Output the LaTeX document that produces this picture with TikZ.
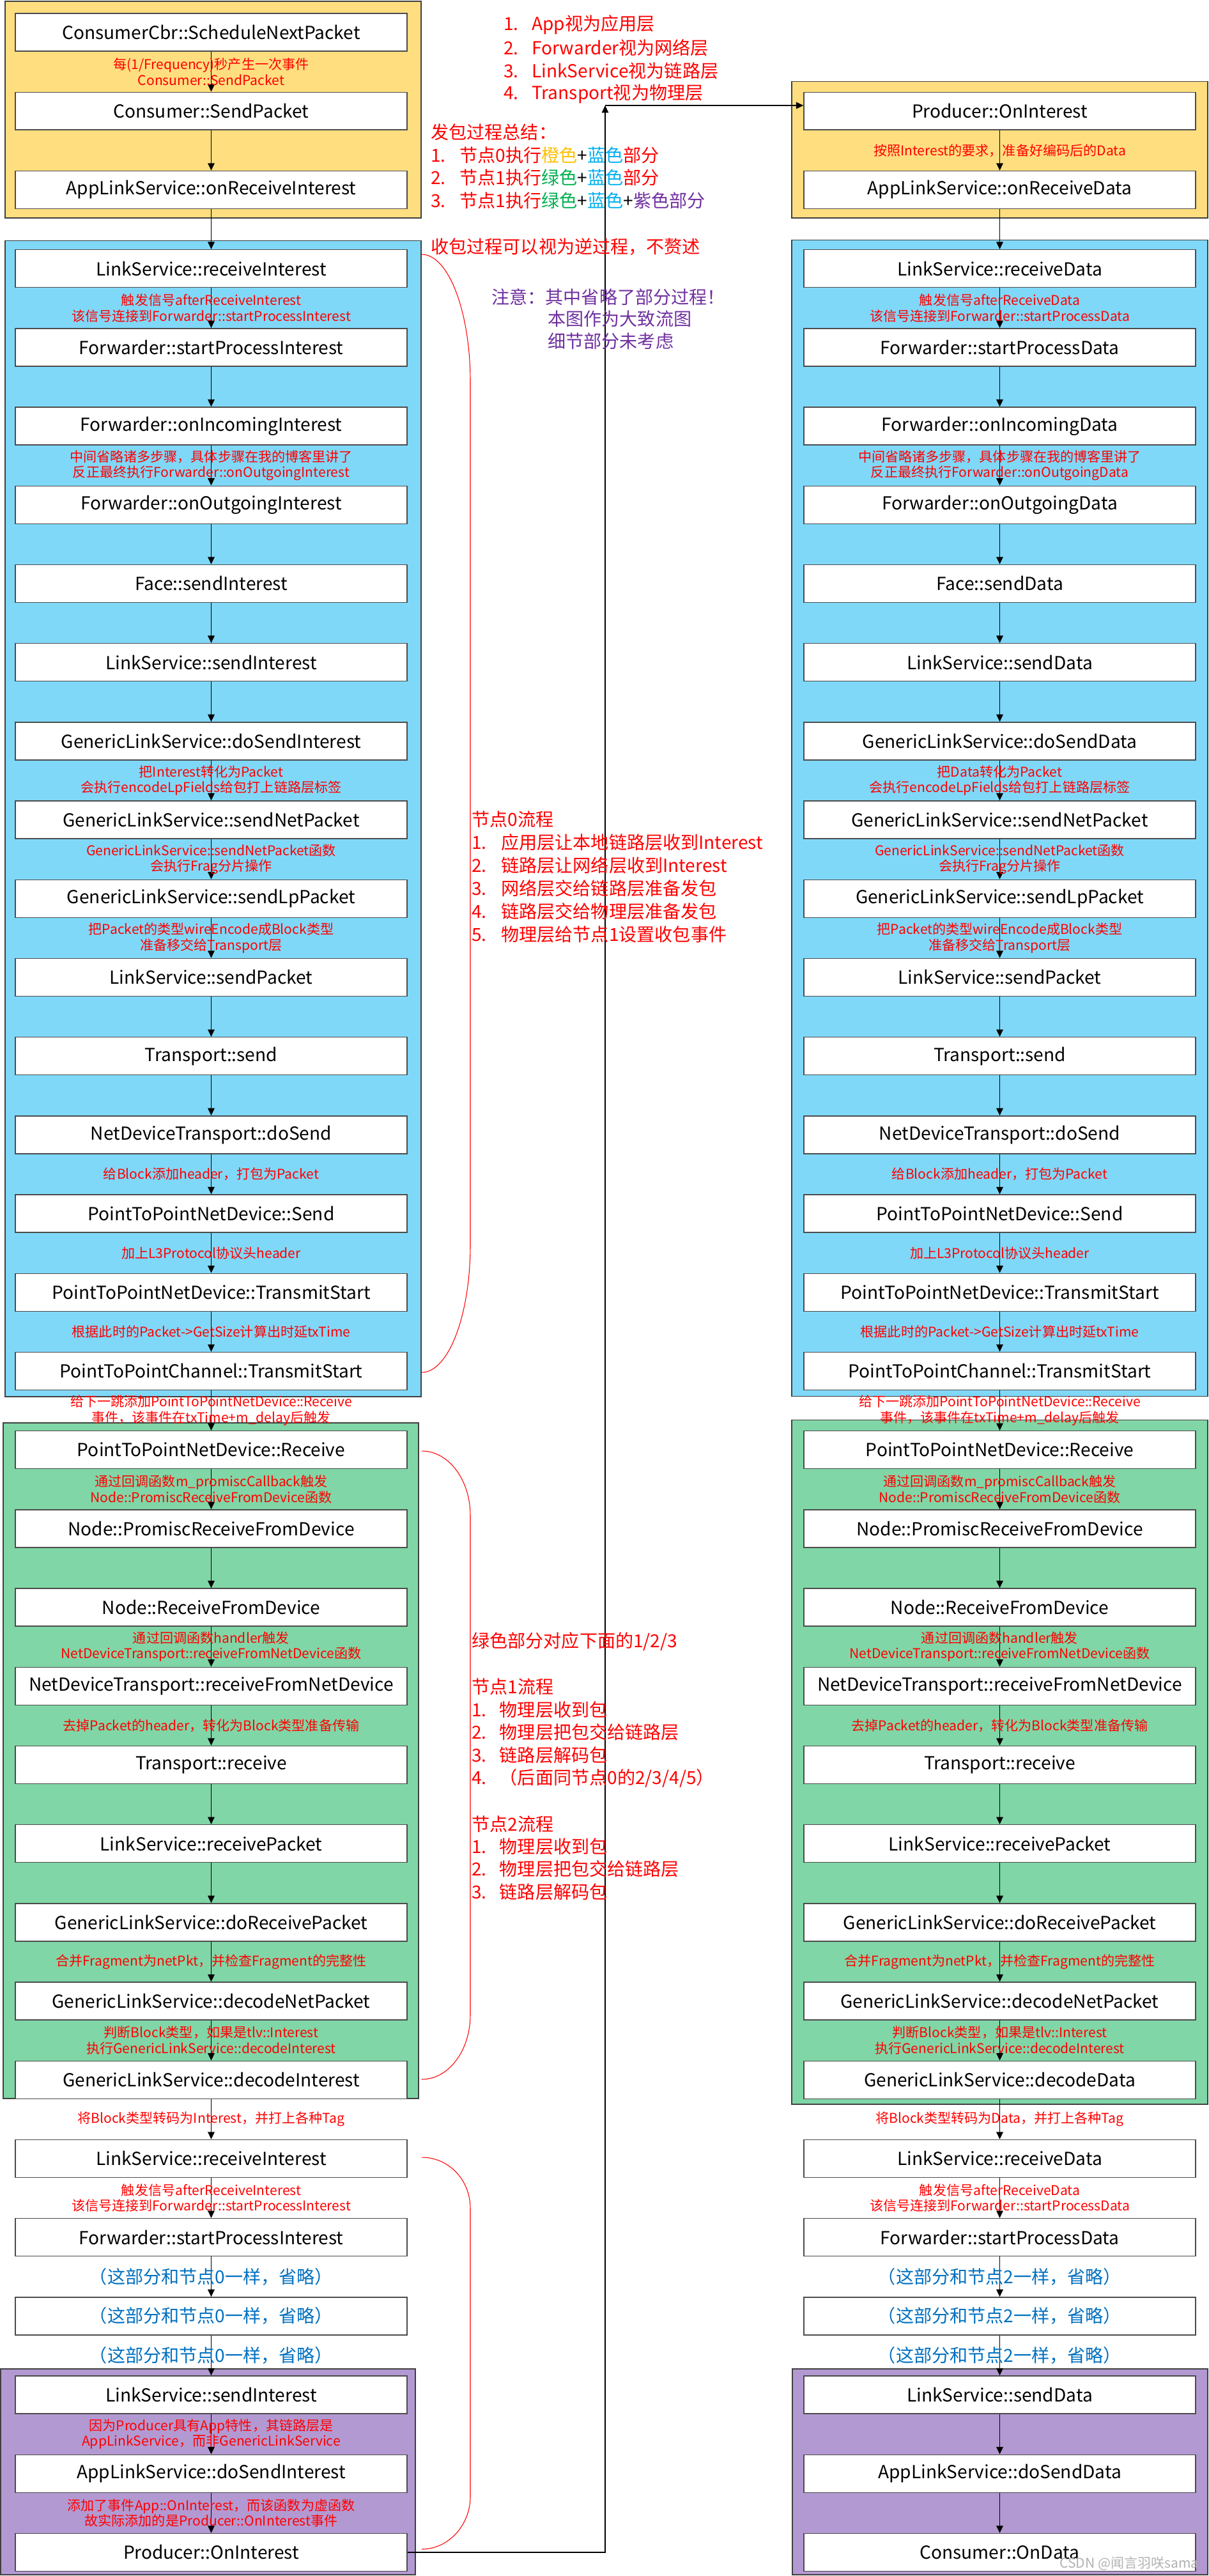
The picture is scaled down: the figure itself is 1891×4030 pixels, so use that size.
\documentclass[tikz,border=0pt]{standalone}
\usepackage{fontspec}
\setmainfont{Noto Sans CJK SC}
\usetikzlibrary{arrows.meta,positioning}

\definecolor{orgfill}{RGB}{255,222,128}
\definecolor{bluefill}{RGB}{128,216,248}
\definecolor{greenfill}{RGB}{128,214,166}
\definecolor{purplefill}{RGB}{179,153,210}
\definecolor{framegray}{RGB}{64,64,64}
\definecolor{skipblue}{RGB}{0,112,192}
\definecolor{orgtxt}{RGB}{255,192,0}
\definecolor{bluetxt}{RGB}{0,176,240}
\definecolor{greentxt}{RGB}{0,176,80}
\definecolor{purpletxt}{RGB}{112,48,160}

% one call box per row, rows are 123.2 apart
\newcommand{\callL}[2]{\node[fn] (L#1) at (330.5,{50.5+123.2*#1}) {#2};}
\newcommand{\callR}[2]{\node[fn] (R#1) at (1564.5,{50.5+123.2*#1}) {#2};}
% red remark in the gap below row #1
\newcommand{\noteL}[2]{\node[note] (nL#1) at (330.5,{112.1+123.2*#1}) {#2};}
\newcommand{\noteR}[2]{\node[note] (nR#1) at (1564.5,{112.1+123.2*#1}) {#2};}

\begin{document}
\begin{tikzpicture}[x=0.02cm,y=-0.02cm,
    frame/.style={draw=framegray,line width=1pt},
    fn/.style={draw=black!70,fill=white,line width=0.8pt,minimum width=12.26cm,minimum height=1.18cm,inner sep=0pt,font=\fontsize{16}{19}\selectfont},
    note/.style={text=red,align=center,inner sep=0pt,font=\fontsize{12}{14}\selectfont},
    skip/.style={text=skipblue,inner sep=0pt,font=\fontsize{16}{19}\selectfont},
    side/.style={text=red,anchor=west,inner sep=0pt,font=\fontsize{16}{19}\selectfont},
    hint/.style={side,text=purpletxt},
    flow/.style={-{Triangle[length=6.5pt,width=6pt]},line width=0.9pt},
    curly/.style={red,line width=0.6pt}]
    \useasboundingbox (0,0) rectangle (1891,4030);

    % coloured frames
    \draw[frame,fill=orgfill] (8,2) rectangle (659,341);
    \draw[frame,fill=bluefill] (8,376.5) rectangle (659,2185);
    \draw[frame,fill=greenfill] (5,2226) rectangle (655,3283);
    \draw[frame,fill=purplefill] (1,3706) rectangle (650,4028);
    \draw[frame,fill=orgfill] (1239,127.5) rectangle (1890,341);
    \draw[frame,fill=bluefill] (1239,375.5) rectangle (1890,2184.5);
    \draw[frame,fill=greenfill] (1239,2221.5) rectangle (1890,3292);
    \draw[frame,fill=purplefill] (1240,3706) rectangle (1890,4028);

    % node 0 / node 1 (Interest)
    \callL{0}{ConsumerCbr::ScheduleNextPacket}
    \callL{1}{Consumer::SendPacket}
    \callL{2}{AppLinkService::onReceiveInterest}
    \callL{3}{LinkService::receiveInterest}
    \callL{4}{Forwarder::startProcessInterest}
    \callL{5}{Forwarder::onIncomingInterest}
    \callL{6}{Forwarder::onOutgoingInterest}
    \callL{7}{Face::sendInterest}
    \callL{8}{LinkService::sendInterest}
    \callL{9}{GenericLinkService::doSendInterest}
    \callL{10}{GenericLinkService::sendNetPacket}
    \callL{11}{GenericLinkService::sendLpPacket}
    \callL{12}{LinkService::sendPacket}
    \callL{13}{Transport::send}
    \callL{14}{NetDeviceTransport::doSend}
    \callL{15}{PointToPointNetDevice::Send}
    \callL{16}{PointToPointNetDevice::TransmitStart}
    \callL{17}{PointToPointChannel::TransmitStart}
    \callL{18}{PointToPointNetDevice::Receive}
    \callL{19}{Node::PromiscReceiveFromDevice}
    \callL{20}{Node::ReceiveFromDevice}
    \callL{21}{NetDeviceTransport::receiveFromNetDevice}
    \callL{22}{Transport::receive}
    \callL{23}{LinkService::receivePacket}
    \callL{24}{GenericLinkService::doReceivePacket}
    \callL{25}{GenericLinkService::decodeNetPacket}
    \callL{26}{GenericLinkService::decodeInterest}
    \callL{27}{LinkService::receiveInterest}
    \callL{28}{Forwarder::startProcessInterest}
    \callL{29}{\textcolor{skipblue}{（这部分和节点0一样，省略）}}
    \callL{30}{LinkService::sendInterest}
    \callL{31}{AppLinkService::doSendInterest}
    \callL{32}{Producer::OnInterest}

    % node 1 / node 0 (Data)
    \callR{1}{Producer::OnInterest}
    \callR{2}{AppLinkService::onReceiveData}
    \callR{3}{LinkService::receiveData}
    \callR{4}{Forwarder::startProcessData}
    \callR{5}{Forwarder::onIncomingData}
    \callR{6}{Forwarder::onOutgoingData}
    \callR{7}{Face::sendData}
    \callR{8}{LinkService::sendData}
    \callR{9}{GenericLinkService::doSendData}
    \callR{10}{GenericLinkService::sendNetPacket}
    \callR{11}{GenericLinkService::sendLpPacket}
    \callR{12}{LinkService::sendPacket}
    \callR{13}{Transport::send}
    \callR{14}{NetDeviceTransport::doSend}
    \callR{15}{PointToPointNetDevice::Send}
    \callR{16}{PointToPointNetDevice::TransmitStart}
    \callR{17}{PointToPointChannel::TransmitStart}
    \callR{18}{PointToPointNetDevice::Receive}
    \callR{19}{Node::PromiscReceiveFromDevice}
    \callR{20}{Node::ReceiveFromDevice}
    \callR{21}{NetDeviceTransport::receiveFromNetDevice}
    \callR{22}{Transport::receive}
    \callR{23}{LinkService::receivePacket}
    \callR{24}{GenericLinkService::doReceivePacket}
    \callR{25}{GenericLinkService::decodeNetPacket}
    \callR{26}{GenericLinkService::decodeData}
    \callR{27}{LinkService::receiveData}
    \callR{28}{Forwarder::startProcessData}
    \callR{29}{\textcolor{skipblue}{（这部分和节点2一样，省略）}}
    \callR{30}{LinkService::sendData}
    \callR{31}{AppLinkService::doSendData}
    \callR{32}{Consumer::OnData}

    \foreach \i [evaluate=\i as \j using int(\i+1)] in {0,...,31}
        \draw[flow] (L\i) -- (L\j);
    \foreach \i [evaluate=\i as \j using int(\i+1)] in {1,...,31}
        \draw[flow] (R\i) -- (R\j);

    % Producer::OnInterest hands over to the other node
    \coordinate (turn) at (947,165);
    \draw[flow] (L32.east) -| (turn);
    \draw[flow] (turn) -- (turn -| R1.west);

    % remarks, left column
    \noteL{0}{每(1/Frequency)秒产生一次事件\\Consumer::SendPacket}
    \noteL{3}{触发信号afterReceiveInterest\\该信号连接到Forwarder::startProcessInterest}
    \noteL{5}{中间省略诸多步骤，具体步骤在我的博客里讲了\\反正最终执行Forwarder::onOutgoingInterest}
    \noteL{9}{把Interest转化为Packet\\会执行encodeLpFields给包打上链路层标签}
    \noteL{10}{GenericLinkService::sendNetPacket函数\\会执行Frag分片操作}
    \noteL{11}{把Packet的类型wireEncode成Block类型\\准备移交给Transport层}
    \noteL{14}{给Block添加header，打包为Packet}
    \noteL{15}{加上L3Protocol协议头header}
    \noteL{16}{根据此时的Packet->GetSize计算出时延txTime}
    \noteL{17}{给下一跳添加PointToPointNetDevice::Receive\\事件，该事件在txTime+m\_delay后触发}
    \noteL{18}{通过回调函数m\_promiscCallback触发\\Node::PromiscReceiveFromDevice函数}
    \noteL{20}{通过回调函数handler触发\\NetDeviceTransport::receiveFromNetDevice函数}
    \noteL{21}{去掉Packet的header，转化为Block类型准备传输}
    \noteL{24}{合并Fragment为netPkt，并检查Fragment的完整性}
    \noteL{25}{判断Block类型，如果是tlv::Interest\\执行GenericLinkService::decodeInterest}
    \noteL{26}{将Block类型转码为Interest，并打上各种Tag}
    \noteL{27}{触发信号afterReceiveInterest\\该信号连接到Forwarder::startProcessInterest}
    \node[skip] (sL28) at (330.5,{112.1+123.2*28}) {（这部分和节点0一样，省略）};
    \node[skip] (sL29) at (330.5,{112.1+123.2*29}) {（这部分和节点0一样，省略）};
    \noteL{30}{因为Producer具有App特性，其链路层是\\AppLinkService，而非GenericLinkService}
    \noteL{31}{添加了事件App::OnInterest，而该函数为虚函数\\故实际添加的是Producer::OnInterest事件}

    % remarks, right column
    \noteR{1}{按照Interest的要求，准备好编码后的Data}
    \noteR{3}{触发信号afterReceiveData\\该信号连接到Forwarder::startProcessData}
    \noteR{5}{中间省略诸多步骤，具体步骤在我的博客里讲了\\反正最终执行Forwarder::onOutgoingData}
    \noteR{9}{把Data转化为Packet\\会执行encodeLpFields给包打上链路层标签}
    \noteR{10}{GenericLinkService::sendNetPacket函数\\会执行Frag分片操作}
    \noteR{11}{把Packet的类型wireEncode成Block类型\\准备移交给Transport层}
    \noteR{14}{给Block添加header，打包为Packet}
    \noteR{15}{加上L3Protocol协议头header}
    \noteR{16}{根据此时的Packet->GetSize计算出时延txTime}
    \noteR{17}{给下一跳添加PointToPointNetDevice::Receive\\事件，该事件在txTime+m\_delay后触发}
    \noteR{18}{通过回调函数m\_promiscCallback触发\\Node::PromiscReceiveFromDevice函数}
    \noteR{20}{通过回调函数handler触发\\NetDeviceTransport::receiveFromNetDevice函数}
    \noteR{21}{去掉Packet的header，转化为Block类型准备传输}
    \noteR{24}{合并Fragment为netPkt，并检查Fragment的完整性}
    \noteR{25}{判断Block类型，如果是tlv::Interest\\执行GenericLinkService::decodeInterest}
    \noteR{26}{将Block类型转码为Data，并打上各种Tag}
    \noteR{27}{触发信号afterReceiveData\\该信号连接到Forwarder::startProcessData}
    \node[skip] (sR28) at (1564.5,{112.1+123.2*28}) {（这部分和节点2一样，省略）};
    \node[skip] (sR29) at (1564.5,{112.1+123.2*29}) {（这部分和节点2一样，省略）};

    % layers
    \node[side] (lay1) at (788,38.5) {\makebox[0.88cm][l]{1.}App视为应用层};
    \node[side] (lay2) at (788,74.5) {\makebox[0.88cm][l]{2.}Forwarder视为网络层};
    \node[side] (lay3) at (788,110.5) {\makebox[0.88cm][l]{3.}LinkService视为链路层};
    \node[side] (lay4) at (788,146.5) {\makebox[0.88cm][l]{4.}Transport视为物理层};

    % summary
    \node[side] (sum0) at (674,207) {发包过程总结：};
    \node[side] (sum1) at (674,243) {\makebox[0.9cm][l]{1.}节点0执行\textcolor{orgtxt}{橙色}\textcolor{black}{+}\textcolor{bluetxt}{蓝色}部分};
    \node[side] (sum2) at (674,278) {\makebox[0.9cm][l]{2.}节点1执行\textcolor{greentxt}{绿色}\textcolor{black}{+}\textcolor{bluetxt}{蓝色}部分};
    \node[side] (sum3) at (674,314) {\makebox[0.9cm][l]{3.}节点1执行\textcolor{greentxt}{绿色}\textcolor{black}{+}\textcolor{bluetxt}{蓝色}\textcolor{black}{+}\textcolor{purpletxt}{紫色部分}};
    \node[side] (back) at (674,386) {收包过程可以视为逆过程，不赘述};

    \node[hint] (warn1) at (769,465) {注意：其中省略了部分过程！};
    \node[hint] (warn2) at (857,499) {本图作为大致流图};
    \node[hint] (warn3) at (857,534) {细节部分未考虑};

    % braces
    \draw[curly] (660,398) .. controls (702,398) and (736,488) .. (736,597)
        -- (736,1948) .. controls (736,2057) and (702,2147) .. (660,2147);
    \draw[curly] (660,2270) .. controls (702,2270) and (736,2315) .. (736,2371)
        -- (736,3152) .. controls (736,3208) and (702,3253) .. (660,3253);
    \draw[curly] (660,3375) .. controls (702,3375) and (736,3410) .. (736,3455)
        -- (736,3906) .. controls (736,3950) and (702,3988) .. (660,3988);

    \node[side] (n0a) at (738,1282) {节点0流程};
    \node[side] (n0b) at (738,1318) {\makebox[0.92cm][l]{1.}应用层让本地链路层收到Interest};
    \node[side] (n0c) at (738,1354) {\makebox[0.92cm][l]{2.}链路层让网络层收到Interest};
    \node[side] (n0d) at (738,1390) {\makebox[0.92cm][l]{3.}网络层交给链路层准备发包};
    \node[side] (n0e) at (738,1426) {\makebox[0.92cm][l]{4.}链路层交给物理层准备发包};
    \node[side] (n0f) at (738,1462) {\makebox[0.92cm][l]{5.}物理层给节点1设置收包事件};

    \node[side] (g0) at (738,2568) {绿色部分对应下面的1/2/3};
    \node[side] (n1a) at (738,2639) {节点1流程};
    \node[side] (n1b) at (738,2675) {\makebox[0.87cm][l]{1.}物理层收到包};
    \node[side] (n1c) at (738,2710) {\makebox[0.87cm][l]{2.}物理层把包交给链路层};
    \node[side] (n1d) at (738,2746) {\makebox[0.87cm][l]{3.}链路层解码包};
    \node[side] (n1e) at (738,2782) {\makebox[0.87cm][l]{4.}（后面同节点0的2/3/4/5）};
    \node[side] (n2a) at (738,2854) {节点2流程};
    \node[side] (n2b) at (738,2889) {\makebox[0.87cm][l]{1.}物理层收到包};
    \node[side] (n2c) at (738,2924) {\makebox[0.87cm][l]{2.}物理层把包交给链路层};
    \node[side] (n2d) at (738,2960) {\makebox[0.87cm][l]{3.}链路层解码包};

    \node[anchor=east,text=gray!60,inner sep=0pt,font=\fontsize{12}{14}\selectfont] (mark) at (1876,4010) {CSDN @闻言羽咲sama};
\end{tikzpicture}
\end{document}
